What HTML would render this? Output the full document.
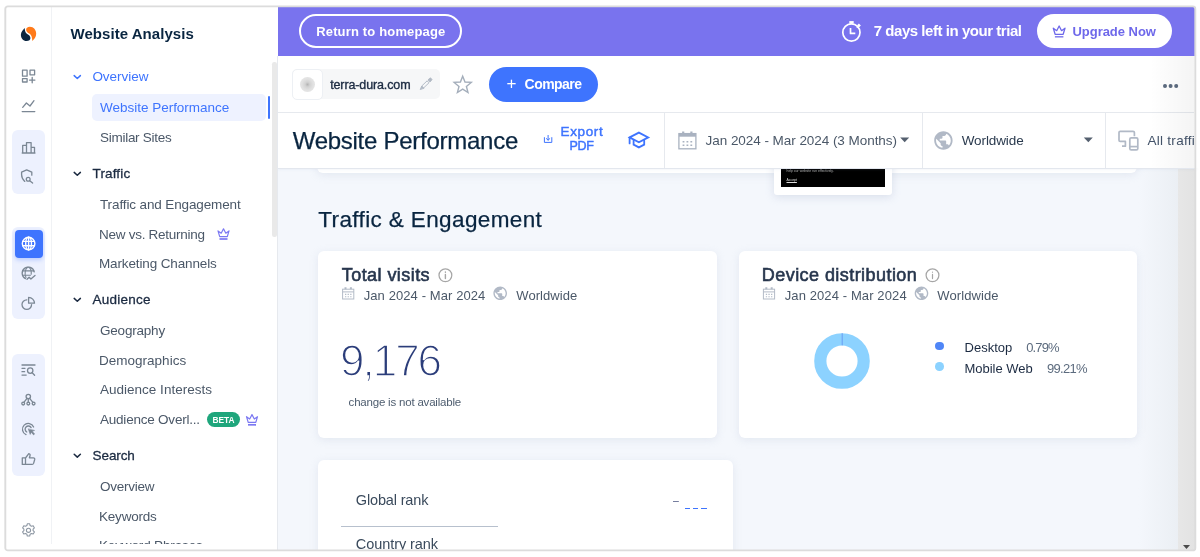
<!DOCTYPE html>
<html lang="en">
<head>
<meta charset="utf-8">
<title>Website Performance - terra-dura.com</title>
<style>
html,body{margin:0;padding:0;background:#fff;}
body{width:1200px;height:557px;position:relative;overflow:hidden;font-family:"Liberation Sans",sans-serif;}
#clip{position:absolute;left:0;top:0;width:1200px;height:550px;overflow:hidden;}
.a{position:absolute;}
.t{position:absolute;white-space:nowrap;line-height:normal;}
#frame{position:absolute;left:4.4px;top:5.4px;width:1188.4px;height:542.4px;border:1.6px solid #dedede;border-radius:2.5px;box-shadow:0 0 1.5px rgba(0,0,0,.10);pointer-events:none;}
.card{position:absolute;background:#fff;border-radius:6px;box-shadow:0 2px 8px rgba(170,183,205,.24);}
svg{position:absolute;overflow:visible;}
</style>
</head>
<body>
<div id="clip">
<!-- main background -->
<div class="a" style="left:278px;top:168px;width:900px;height:384px;background:#f4f7fc;"></div>
<div class="a" style="left:1138px;top:168px;width:40px;height:384px;background:linear-gradient(90deg,rgba(236,240,246,0),#ebeff4);"></div>
<!-- page scrollbar -->
<div class="a" style="left:1178px;top:168px;width:18px;height:384px;background:linear-gradient(90deg,#e7e7e7,#e2e2e2);"></div>
<svg style="left:1182.8px;top:545px" width="7" height="4" viewBox="0 0 7 4"><path d="M0 0h7L3.5 4z" fill="#4a4a4a"/></svg>

<!-- peeking card + thumbnail -->
<div class="card" style="left:317px;top:120px;width:820px;height:52.8px;border-radius:6px;"></div>
<div class="a" style="left:774px;top:150px;width:118.3px;height:45px;background:#fff;border-radius:3px;box-shadow:0 2px 8px rgba(160,172,200,.32);"></div>
<div class="a" style="left:781px;top:150px;width:104.3px;height:37.3px;background:#000;"></div>
<span class="t" style="left:786.5px;top:168.6px;font-size:3.4px;color:#aaa;">help our website run effectively.</span>
<span class="t" style="left:786.5px;top:177.6px;font-size:3.4px;color:#ddd;text-decoration:underline;text-decoration-thickness:.35px;text-underline-offset:.6px;">Accept</span>

<!-- cards -->
<div class="card" style="left:318px;top:251px;width:399px;height:187px;"></div>
<div class="card" style="left:739px;top:251px;width:398px;height:187px;"></div>
<div class="card" style="left:318px;top:460px;width:415px;height:120px;"></div>
<div class="a" style="left:341px;top:526px;width:157px;height:1px;background:#b7c0cd;"></div>
<div class="a" style="left:684.8px;top:507.6px;width:5.1px;height:1.4px;background:#3e74fe;"></div>
<div class="a" style="left:693.3px;top:507.6px;width:4.6px;height:1.4px;background:#3e74fe;"></div>
<div class="a" style="left:701.3px;top:507.6px;width:5.4px;height:1.4px;background:#3e74fe;"></div>

<!-- donut -->
<svg style="left:812.25px;top:331.25px" width="60" height="60" viewBox="-30 -30 60 60">
<circle r="21.7" fill="none" stroke="#8cd2ff" stroke-width="12.2"/>
<path d="M0.2 -27.8V-15.6" stroke="#6596f3" stroke-width="0.9" fill="none"/>
</svg>
<div class="a" style="left:935.05px;top:341.85px;width:8.5px;height:8.5px;border-radius:50%;background:#4f86f7;"></div>
<div class="a" style="left:935.05px;top:362.25px;width:8.5px;height:8.5px;border-radius:50%;background:#8cd2ff;"></div>

<!-- header -->
<div class="a" style="left:278px;top:56px;width:918px;height:112px;background:#fff;box-shadow:0 1px 3px rgba(150,165,195,.18);"></div>
<div class="a" style="left:278px;top:112px;width:918px;height:1px;background:#e6e9ee;"></div>
<div class="a" style="left:278px;top:168px;width:918px;height:1px;background:#e3e7ee;"></div>
<div class="a" style="left:664px;top:113px;width:1px;height:55px;background:#e6e9ee;"></div>
<div class="a" style="left:922px;top:113px;width:1px;height:55px;background:#e6e9ee;"></div>
<div class="a" style="left:1105px;top:113px;width:1px;height:55px;background:#e6e9ee;"></div>

<!-- banner -->
<div class="a" style="left:278px;top:7px;width:918px;height:49px;background:#7973ee;"></div>
<div class="a" style="left:299.3px;top:14px;width:158.4px;height:30.2px;border:2px solid #fff;border-radius:18px;"></div>
<div class="a" style="left:1037px;top:14px;width:135px;height:34px;border-radius:17px;background:#fff;"></div>

<!-- toolbar chip -->
<div class="a" style="left:292px;top:69px;width:148px;height:30px;border-radius:5px;background:#f6f7f8;"></div>
<div class="a" style="left:292px;top:69px;width:29px;height:29px;border-radius:5px;background:#fff;border:1px solid #edf0f4;box-sizing:content-box;"></div>
<div class="a" style="left:300.1px;top:77px;width:14.8px;height:14.8px;border-radius:50%;background:radial-gradient(circle,#b4b4b4 0,#d2d2d2 22%,#e0e0e0 50%,#e9e9e9 85%,#f0f0f0 100%);"></div>
<div class="a" style="left:488.6px;top:66.8px;width:109px;height:34.8px;border-radius:17.4px;background:#3e74fe;"></div>
<div class="a" style="left:1163.4px;top:84.1px;width:3.8px;height:3.8px;border-radius:50%;background:#5d6c80;box-shadow:5.6px 0 0 #5d6c80,11.2px 0 0 #5d6c80;"></div>

<!-- sidebar -->
<div class="a" style="left:6px;top:7px;width:272px;height:545px;background:#fff;"></div>
<div class="a" style="left:51px;top:7px;width:1px;height:545px;background:#f0f2f5;"></div>
<div class="a" style="left:12px;top:130px;width:33px;height:63.5px;border-radius:6px;background:#edf1fe;"></div>
<div class="a" style="left:12px;top:227px;width:33px;height:92px;border-radius:6px;background:#edf1fe;"></div>
<div class="a" style="left:12px;top:353.5px;width:33px;height:122px;border-radius:6px;background:#edf1fe;"></div>
<div class="a" style="left:15px;top:230px;width:28px;height:27.5px;border-radius:4px;background:#3e74fe;box-shadow:0 2px 4px rgba(62,116,254,.3);"></div>
<div class="a" style="left:92px;top:93.5px;width:174px;height:27.5px;border-radius:5px;background:#eef2ff;"></div>
<div class="a" style="left:267.7px;top:96.3px;width:2.4px;height:22.5px;border-radius:1.2px;background:#3e74fe;"></div>
<div class="a" style="left:277.2px;top:56px;width:1px;height:496px;background:#e6e9ee;"></div>
<div class="a" style="left:272.3px;top:62px;width:4.4px;height:174.5px;border-radius:2.2px;background:#e9e9e9;"></div>
<div class="a" style="left:207px;top:412px;width:33px;height:14.5px;border-radius:8px;background:#1fa67c;"></div>

<svg style="left:0;top:0" width="1200" height="557" viewBox="0 0 1200 557" fill="none" stroke-linecap="round" stroke-linejoin="round">
<!-- logo -->
<g transform="translate(14 20) scale(0.05386)" stroke="none">
<path fill="#0a2540" d="M197 148C170 185 128 220 128 275C128 340 170 392 232 392C280 392 305 365 305 335C305 300 275 280 245 262C210 240 205 200 197 148Z"/>
<path fill="#ff7a1a" d="M340 388C375 355 412 315 412 255C412 185 365 125 295 125C250 125 225 150 225 180C225 215 255 235 285 252C325 275 335 320 340 388Z"/>
</g>
<!-- rail icons -->
<g stroke="#7b8794" stroke-width="1.3">
<!-- grid plus -->
<rect x="22.5" y="70.2" width="4.6" height="6"/>
<rect x="30" y="70.2" width="4.6" height="4.6"/>
<rect x="22.5" y="78.6" width="4.6" height="3.4"/>
<path d="M32.2 77.4v5.4M29.5 80.1h5.4"/>
<!-- line chart -->
<path d="M22.7 107.3L26.4 103L30 106L34 100.7M22.2 111.6h12.6"/>
<!-- bar chart -->
<path d="M22.7 153V145.4h3.8V153M26.5 153V142.6h4.6V153M31.1 147.3h3.4V153M22.2 153h12.8"/>
<!-- shield search -->
<path d="M24.8 181.4C22.8 179.6 21.6 177.4 21.6 174.8V172.1L26.7 169.9L31.8 172.1V175.2"/>
<circle cx="28.2" cy="179.2" r="1.9"/>
<path d="M29.7 180.7L32.6 183"/>
<!-- globe chart -->
<path d="M34.2 271.8A6.1 6.1 0 1 0 25.4 278.6"/>
<path d="M22.6 270.9H33.9M22.6 275.2H30.4" stroke-width="1.1"/>
<path d="M27.6 267.2A3.4 6.3 0 0 0 26 277.6M28.9 267.2A3.4 6.3 0 0 1 31.2 274.2" stroke-width="1.1"/>
<path d="M27 279.2L29.1 277.2L30.9 279L35 275.5"/>
<!-- pie -->
<path d="M26.8 299.8A4.8 4.8 0 1 0 31.6 304.6"/>
<path d="M28.6 297.4A5.9 5.9 0 0 1 34.5 303.2H28.6Z"/>
<!-- list search -->
<path d="M22 365H35M22 368.3H25M22 371.7H24.6M22 375.1H26.2"/>
<circle cx="30.2" cy="370.6" r="2.7"/>
<path d="M32.2 372.7L34.6 375.2"/>
<!-- network -->
<circle cx="28.3" cy="396.5" r="2.2"/>
<circle cx="23.2" cy="403.6" r="1.4"/>
<circle cx="28.3" cy="403.6" r="1.4"/>
<circle cx="33.6" cy="403.6" r="1.4"/>
<path d="M28.3 398.7V402.2M27 398.3L23.9 402.4M29.6 398.3L32.9 402.4"/>
<!-- target cursor -->
<path d="M33.6 427A5.8 5.8 0 1 0 26 434.6"/>
<path d="M31.1 427.6A3.2 3.2 0 1 0 26.8 432"/>
<path d="M28.4 429.2L30.2 434.4L31.3 432.2L33.6 434.9L34.6 434L32.3 431.4L34.2 430.6Z" fill="#7b8794" stroke-width=".6"/>
<!-- thumbs up -->
<path d="M22.3 457.8h3.2v6.6h-3.2zM25.5 458L28.8 453.6C30 453.8 30.3 454.8 30 455.8L29.4 457.8H33.4C34.4 457.8 34.9 458.6 34.7 459.5L33.6 463.4C33.4 464 32.9 464.4 32.2 464.4H25.5"/>
<!-- gear -->
<circle cx="28.5" cy="530.3" r="2.1" stroke-width="1.1" stroke="#8d97a3"/>
<path stroke="#8d97a3" stroke-width="1.1" d="M27.3 523.8h2.4l.4 1.7 1.4.8 1.7-.5 1.2 2.1-1.3 1.2v1.6l1.3 1.2-1.2 2.1-1.7-.5-1.4.8-.4 1.7h-2.4l-.4-1.7-1.4-.8-1.7.5-1.2-2.1 1.3-1.2v-1.6l-1.3-1.2 1.2-2.1 1.7.5 1.4-.8z"/>
</g>
<!-- active globe (white) -->
<g stroke="#fff" stroke-width="1.4">
<circle cx="28.6" cy="243.6" r="6.3"/>
<ellipse cx="28.6" cy="243.6" rx="2.9" ry="6.3"/>
<path d="M28.6 237.3V249.9M22.8 241.4H34.4M22.8 245.8H34.4"/>
</g>
<!-- chevrons -->
<g stroke-width="1.5">
<path stroke="#3e74fe" d="M74.2 75.6L77.3 78.5L80.4 75.6"/>
<path stroke="#1b2a41" d="M74.2 172.4L77.3 175.3L80.4 172.4"/>
<path stroke="#1b2a41" d="M74.2 298.4L77.3 301.3L80.4 298.4"/>
<path stroke="#1b2a41" d="M74.2 454.2L77.3 457.1L80.4 454.2"/>
</g>
<!-- crowns -->
<g stroke="#7b78f2" stroke-width="1.2">
<path d="M218.0 230.9L219.7 236.6L227.3 236.6L229.0 230.9L225.8 233.2L223.5 228.8L221.2 233.2Z"/><path d="M219.5 239.0H227.5" stroke-width="1.7" stroke-linecap="butt"/>
<path d="M246.5 416.7L248.2 422.4L255.8 422.4L257.5 416.7L254.3 419.0L252.0 414.6L249.7 419.0Z"/><path d="M248.0 424.8H256.0" stroke-width="1.7" stroke-linecap="butt"/>
</g>
<g stroke="#6e68ea" stroke-width="1.3">
<path d="M1053.32 28.24L1055.12 34.28L1063.18 34.28L1064.98 28.24L1061.59 30.68L1059.15 26.01L1056.71 30.68Z"/><path d="M1054.91 36.82H1063.39" stroke-linecap="butt"/>
</g>
<!-- timer -->
<g stroke="#fff" stroke-width="1.7">
<circle cx="851.4" cy="32.5" r="8.6"/>
<path d="M850.5 28V33.4H855.3" stroke-linecap="butt"/>
<path d="M849.3 22.4h4.4" stroke-width="2.6" stroke-linecap="butt"/>
<path d="M858 24.3l2 2" stroke-width="2.4" stroke-linecap="butt"/><path d="M857.2 27.2l1.6-1.6" stroke-width="1.4"/>
</g>
<!-- pencil -->
<g transform="translate(420.4 89.2) rotate(-44)" stroke="#b1b9c4" stroke-width="0.9" stroke-linejoin="round">
<path d="M0 0L3.2 -1.35V1.35Z" fill="#b1b9c4"/>
<rect x="3.2" y="-1.35" width="7.4" height="2.7"/>
<path d="M12.2 -1.4H14.2C14.9 -1.4 15.2 -1.1 15.2 -0.5V0.5C15.2 1.1 14.9 1.4 14.2 1.4H12.2Z" fill="#b1b9c4"/>
</g>
<!-- star -->
<path stroke="#a4aebb" stroke-width="1.4" stroke-linejoin="miter" d="M462.70 76.20L464.99 82.04L471.26 82.42L466.41 86.41L467.99 92.48L462.70 89.10L457.41 92.48L458.99 86.41L454.14 82.42L460.41 82.04Z"/>
<!-- export -->
<g stroke="#3e74fe" stroke-width="1">
<path d="M544.4 137.6V142.4H551.8V137.6M548.1 135.4V140M546.4 138.6L548.1 140.2L549.8 138.6"/>
</g>
<!-- grad cap -->
<g stroke="#3e74fe" stroke-width="1.8" stroke-linejoin="miter">
<path d="M629.6 137.4L638.9 132.6L648.2 137.4L638.9 142.2Z"/>
<path d="M633.6 140.2V144.6L638.9 147.4L644.2 144.6V140.2M629.6 137.6V143.4"/>
</g>
<!-- calendar big -->
<g stroke="#a9b2c0" stroke-width="1.3" stroke-linejoin="miter" stroke-linecap="butt">
<rect x="678.9" y="133.6" width="17" height="15.2"/>
<path d="M678.9 135.2H695.9" stroke-width="3"/>
<path d="M683.2 131.4V134M691.4 131.4V134" stroke-width="2.2"/>
<path d="M682.6 141.7h1.8M686.5 141.7h1.8M690.4 141.7h1.8M682.6 145.2h1.8M686.5 145.2h1.8M690.4 145.2h1.8" stroke-width="1.5"/>
</g>
<!-- dropdown arrows -->
<path d="M900.2 137.6h9L904.7 142.2Z" fill="#55606f" stroke="none"/>
<path d="M1083.8 137.6h9L1088.3 142.2Z" fill="#55606f" stroke="none"/>
<!-- globe big -->
<path transform="translate(943.40 140.50) scale(0.920) translate(-12 -12)" fill="#b1b9c6" stroke="none" fill-rule="evenodd" d="M12 2C6.48 2 2 6.48 2 12s4.48 10 10 10 10-4.48 10-10S17.52 2 12 2zm-1 17.93c-3.95-.49-7-3.85-7-7.93 0-.62.08-1.21.21-1.79L9 15v1c0 1.1.9 2 2 2v1.93zm6.9-2.54c-.26-.81-1-1.39-1.9-1.39h-1v-3c0-.55-.45-1-1-1H8v-2h2c.55 0 1-.45 1-1V7h2c1.1 0 2-.9 2-2v-.41c2.93 1.19 5 4.06 5 7.41 0 2.08-.8 3.97-2.1 5.39z"/>
<!-- devices -->
<g stroke="#b1b9c6" stroke-width="1.7" stroke-linejoin="round" stroke-linecap="butt">
<path d="M1134.4 136.2V132.6C1134.4 131.8 1133.8 131.3 1133 131.3H1120.2C1119.4 131.3 1119 131.8 1119 132.6V140.2C1119 141 1119.4 141.4 1120.2 141.4H1125.4V146.2H1122"/>
<rect x="1129.8" y="137.8" width="8" height="12" rx="1.4"/>
<path d="M1129.8 146.6H1137.8"/>
</g>
<!-- info icons -->
<g stroke="#a6a6a6" stroke-width="1.25">
<circle cx="445.4" cy="275.3" r="6.4"/>
<path d="M445.4 274.4V278.6M445.4 272V272.2" stroke-width="1.4"/>
<circle cx="932.5" cy="275.3" r="6.4"/>
<path d="M932.5 274.4V278.6M932.5 272V272.2" stroke-width="1.2"/>
</g>
<!-- small calendars -->
<g stroke="#b3bbc7" stroke-width="1" stroke-linecap="butt" stroke-linejoin="miter">
<rect x="342.6" y="289.2" width="11.2" height="9.8"/>
<path d="M342.6 291.9H353.8"/>
<path d="M345.5 287.3V289.2M350.9 287.3V289.2" stroke-width="2"/>
<path d="M345.0 294.4h1.3M347.6 294.4h1.3M350.2 294.4h1.3M345.0 296.7h1.3M347.6 296.7h1.3M350.2 296.7h1.3" stroke-width="1.1"/>
<rect x="763.4" y="289.2" width="11.2" height="9.8"/>
<path d="M763.4 291.9H774.6"/>
<path d="M766.3 287.3V289.2M771.7 287.3V289.2" stroke-width="2"/>
<path d="M765.8 294.4h1.3M768.4 294.4h1.3M771.0 294.4h1.3M765.8 296.7h1.3M768.4 296.7h1.3M771.0 296.7h1.3" stroke-width="1.1"/>
</g>
<!-- small globes -->
<path transform="translate(500.20 293.30) scale(0.680) translate(-12 -12)" fill="#b1b9c6" stroke="none" fill-rule="evenodd" d="M12 2C6.48 2 2 6.48 2 12s4.48 10 10 10 10-4.48 10-10S17.52 2 12 2zm-1 17.93c-3.95-.49-7-3.85-7-7.93 0-.62.08-1.21.21-1.79L9 15v1c0 1.1.9 2 2 2v1.93zm6.9-2.54c-.26-.81-1-1.39-1.9-1.39h-1v-3c0-.55-.45-1-1-1H8v-2h2c.55 0 1-.45 1-1V7h2c1.1 0 2-.9 2-2v-.41c2.93 1.19 5 4.06 5 7.41 0 2.08-.8 3.97-2.1 5.39z"/>
<path transform="translate(921.50 293.30) scale(0.680) translate(-12 -12)" fill="#b1b9c6" stroke="none" fill-rule="evenodd" d="M12 2C6.48 2 2 6.48 2 12s4.48 10 10 10 10-4.48 10-10S17.52 2 12 2zm-1 17.93c-3.95-.49-7-3.85-7-7.93 0-.62.08-1.21.21-1.79L9 15v1c0 1.1.9 2 2 2v1.93zm6.9-2.54c-.26-.81-1-1.39-1.9-1.39h-1v-3c0-.55-.45-1-1-1H8v-2h2c.55 0 1-.45 1-1V7h2c1.1 0 2-.9 2-2v-.41c2.93 1.19 5 4.06 5 7.41 0 2.08-.8 3.97-2.1 5.39z"/>
</svg>


<span class="t" style="left:70.50px;top:25.0px;font-size:15px;font-weight:700;color:#092540;letter-spacing:0.049px;">Website Analysis</span>
<span class="t" style="left:92.40px;top:69.0px;font-size:13.5px;color:#3e74fe;letter-spacing:-0.030px;">Overview</span>
<span class="t" style="left:100.00px;top:100.0px;font-size:13.5px;color:#3e74fe;letter-spacing:-0.014px;">Website Performance</span>
<span class="t" style="left:100.00px;top:130.0px;font-size:13.5px;color:#4b5868;letter-spacing:-0.272px;">Similar Sites</span>
<span class="t" style="left:92.50px;top:166.0px;font-size:13.5px;color:#1b2a41;letter-spacing:0.149px;-webkit-text-stroke:.3px #1b2a41;">Traffic</span>
<span class="t" style="left:100.00px;top:197.0px;font-size:13.5px;color:#4b5868;letter-spacing:-0.123px;">Traffic and Engagement</span>
<span class="t" style="left:99.00px;top:227.0px;font-size:13.5px;color:#4b5868;letter-spacing:-0.268px;">New vs. Returning</span>
<span class="t" style="left:99.00px;top:256.0px;font-size:13.5px;color:#4b5868;letter-spacing:-0.136px;">Marketing Channels</span>
<span class="t" style="left:92.50px;top:292.0px;font-size:13.5px;color:#1b2a41;letter-spacing:0.245px;-webkit-text-stroke:.3px #1b2a41;">Audience</span>
<span class="t" style="left:100.00px;top:322.5px;font-size:13.5px;color:#4b5868;letter-spacing:-0.206px;">Geography</span>
<span class="t" style="left:99.00px;top:352.5px;font-size:13.5px;color:#4b5868;letter-spacing:0.010px;">Demographics</span>
<span class="t" style="left:100.00px;top:382.0px;font-size:13.5px;color:#4b5868;letter-spacing:0.008px;">Audience Interests</span>
<span class="t" style="left:100.00px;top:412.0px;font-size:13.5px;color:#4b5868;letter-spacing:-0.219px;">Audience Overl...</span>
<span class="t" style="left:92.60px;top:448.0px;font-size:13.5px;color:#1b2a41;letter-spacing:-0.113px;-webkit-text-stroke:.3px #1b2a41;">Search</span>
<span class="t" style="left:100.00px;top:478.5px;font-size:13.5px;color:#4b5868;letter-spacing:-0.245px;">Overview</span>
<span class="t" style="left:99.00px;top:508.5px;font-size:13.5px;color:#4b5868;letter-spacing:-0.203px;">Keywords</span>
<span class="t" style="left:99.00px;top:538.0px;font-size:13.5px;color:#4b5868;letter-spacing:-0.146px;">Keyword Phrases</span>
<span class="t" style="left:212.50px;top:414.9px;font-size:8.4px;font-weight:700;color:#fff;letter-spacing:-0.009px;">BETA</span>
<span class="t" style="left:316.20px;top:23.5px;font-size:13px;font-weight:700;color:#fff;letter-spacing:0.161px;">Return to homepage</span>
<span class="t" style="left:873.70px;top:22.0px;font-size:15px;font-weight:700;color:#fff;letter-spacing:-0.456px;">7 days left in your trial</span>
<span class="t" style="left:1072.50px;top:23.6px;font-size:13px;font-weight:700;color:#6e68ea;letter-spacing:-0.037px;">Upgrade Now</span>
<span class="t" style="left:330.20px;top:77.7px;font-size:12.5px;color:#1b2a41;letter-spacing:-0.120px;-webkit-text-stroke:.35px #1b2a41;">terra-dura.com</span>
<span class="t" style="left:506.50px;top:74.0px;font-size:17px;color:#fff;">+</span>
<span class="t" style="left:524.60px;top:76.0px;font-size:14px;font-weight:700;color:#fff;letter-spacing:-0.549px;">Compare</span>
<span class="t" style="left:292.70px;top:127.0px;font-size:24px;color:#092540;letter-spacing:-0.265px;-webkit-text-stroke:.25px #092540;">Website Performance</span>
<span class="t" style="left:560.50px;top:123.7px;font-size:13.5px;color:#3e74fe;letter-spacing:0.647px;-webkit-text-stroke:.45px #3e74fe;">Export</span>
<span class="t" style="left:569.50px;top:139.2px;font-size:12.5px;color:#3e74fe;letter-spacing:-0.332px;-webkit-text-stroke:.45px #3e74fe;">PDF</span>
<span class="t" style="left:705.60px;top:132.6px;font-size:13.5px;color:#4b5868;letter-spacing:-0.050px;">Jan 2024 - Mar 2024 (3 Months)</span>
<span class="t" style="left:961.70px;top:132.7px;font-size:13.5px;color:#2a3a4e;letter-spacing:-0.096px;">Worldwide</span>
<span class="t" style="left:1147.50px;top:132.5px;font-size:13.5px;color:#44546a;letter-spacing:0.274px;">All traffic</span>
<span class="t" style="left:318.30px;top:207.4px;font-size:22.5px;color:#092540;letter-spacing:0.378px;-webkit-text-stroke:.25px #092540;">Traffic &amp; Engagement</span>
<span class="t" style="left:341.80px;top:264.8px;font-size:18px;color:#27364d;letter-spacing:0.434px;-webkit-text-stroke:.6px #27364d;">Total visits</span>
<span class="t" style="left:363.70px;top:288.2px;font-size:13px;color:#4b5868;letter-spacing:0.093px;">Jan 2024 - Mar 2024</span>
<span class="t" style="left:516.30px;top:288.2px;font-size:13px;color:#4b5868;letter-spacing:0.060px;">Worldwide</span>
<span class="t" style="left:340.00px;top:336.4px;font-size:44px;color:#2b3d7a;letter-spacing:-2.009px;-webkit-text-stroke:1.5px #fff;">9,176</span>
<span class="t" style="left:348.60px;top:395.6px;font-size:11.5px;color:#4e5d6f;letter-spacing:-0.200px;">change is not available</span>
<span class="t" style="left:761.80px;top:264.8px;font-size:18px;color:#27364d;letter-spacing:0.441px;-webkit-text-stroke:.6px #27364d;">Device distribution</span>
<span class="t" style="left:784.70px;top:288.2px;font-size:13px;color:#4b5868;letter-spacing:0.109px;">Jan 2024 - Mar 2024</span>
<span class="t" style="left:937.30px;top:288.2px;font-size:13px;color:#4b5868;letter-spacing:0.098px;">Worldwide</span>
<span class="t" style="left:964.50px;top:340.0px;font-size:13px;color:#1b2a41;letter-spacing:0.007px;">Desktop</span>
<span class="t" style="left:1026.25px;top:340.0px;font-size:13px;color:#5c6b7e;letter-spacing:-0.888px;">0.79%</span>
<span class="t" style="left:964.50px;top:360.5px;font-size:13px;color:#1b2a41;letter-spacing:-0.019px;">Mobile Web</span>
<span class="t" style="left:1047.00px;top:360.5px;font-size:13px;color:#5c6b7e;letter-spacing:-0.706px;">99.21%</span>
<span class="t" style="left:355.80px;top:492.0px;font-size:14.5px;color:#3a4a5c;letter-spacing:-0.150px;">Global rank</span>
<span class="t" style="left:355.80px;top:536.0px;font-size:14.5px;color:#3a4a5c;letter-spacing:-0.069px;">Country rank</span>
<span class="t" style="left:673.00px;top:494.0px;font-size:10.5px;color:#4a5580;">–</span>

<div class="a" style="left:51px;top:544px;width:221px;height:8px;background:#fff;"></div>
<!-- right fade -->
<div class="a" style="left:1150px;top:56px;width:44.5px;height:112px;background:linear-gradient(90deg,rgba(0,0,0,0),rgba(0,0,0,.045));"></div>
<div class="a" style="left:1194.4px;top:56px;width:6px;height:112px;background:#fff;"></div>
</div>
<svg style="left:0;top:0;pointer-events:none" width="1200" height="557" viewBox="0 0 1200 557"><rect x="5.3" y="6.4" width="1190" height="544" rx="2.5" fill="none" stroke="#dcdcdc" stroke-width="1.9"/></svg>
</body>
</html>
